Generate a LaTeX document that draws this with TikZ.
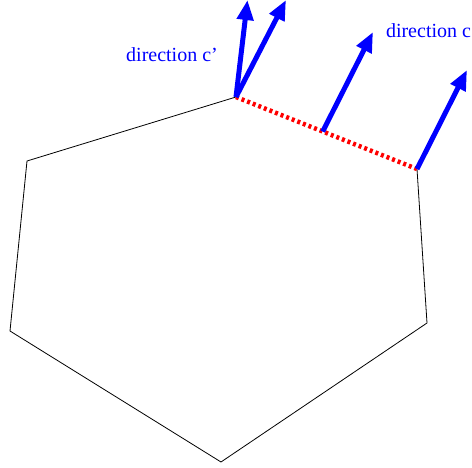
\documentclass[tikz,border=0pt]{standalone}
\usepackage{fontspec}
\setmainfont{Liberation Serif}
\usetikzlibrary{arrows.meta}
\begin{document}
\begin{tikzpicture}[x=1pt,y=-1pt,
  edge/.style={black,line width=0.8pt,line join=miter},
  facet/.style={red,line width=4.5pt,dash pattern=on 3pt off 3pt},
  dirarrow/.style={blue,line width=5pt,-{Triangle[length=20pt,width=16pt]}},
  lbl/.style={blue,font=\fontsize{20}{24}\selectfont,inner sep=0pt}]
\useasboundingbox (0,0) rectangle (472,468);
\coordinate (A) at (236,97);
\coordinate (B) at (417,169);
\coordinate (C) at (427,323);
\coordinate (D) at (221,462);
\coordinate (E) at (10,331);
\coordinate (F) at (27,161);
\coordinate (M) at (322.7,131.5);
\coordinate (T1) at (247.5,0);
\coordinate (T2) at (286,0);
\coordinate (T3) at (373,32);
\coordinate (T4) at (467,70);
\draw[edge] (A) -- (F) -- (E) -- (D) -- (C) -- (B);
\draw[facet] (A) -- (B);
\draw[dirarrow] (A) -- (T1);
\draw[dirarrow] (A) -- (T2);
\draw[dirarrow] (M) -- (T3);
\draw[dirarrow] (B) -- (T4);
\node[lbl] (l1) at (172,55) {direction c'};
\node[lbl] (l2) at (428.5,31) {direction c};
\end{tikzpicture}
\end{document}
